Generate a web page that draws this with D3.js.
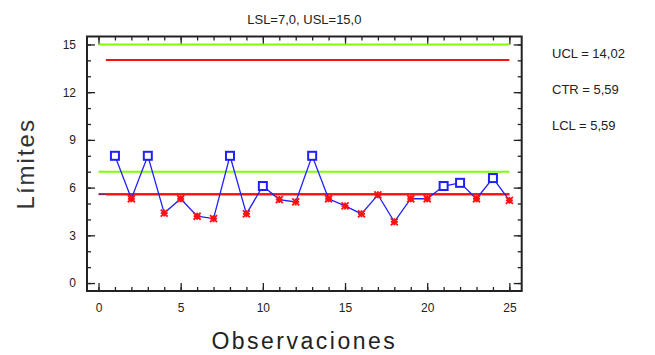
<!DOCTYPE html>
<html>
<head>
<meta charset="utf-8">
<script src="https://cdn.jsdelivr.net/npm/d3@7"></script>
<style>
  body { margin: 0; background: #fff; }
  text { font-family: "Liberation Sans", Arial, sans-serif; fill: #222; }
</style>
</head>
<body>
<div id="chart"></div>
<script>
// observations and measured values
var observations = [1, 2, 3, 4, 5, 6, 7, 8, 9, 10, 11, 12, 13, 14, 15, 16, 17, 18, 19, 20, 21, 22, 23, 24, 25];
var values = [8.0, 5.3, 8.0, 4.4, 5.3, 4.2, 4.05, 8.0, 4.35, 6.1, 5.25, 5.1, 8.0, 5.3, 4.85, 4.35, 5.55, 3.85, 5.3, 5.3, 6.1, 6.3, 5.3, 6.6, 5.2];

// spec and control limits
var specNames = ["LSL", "USL"];
var specValues = [7.0, 15.0];
var controlNames = ["UCL", "CTR", "LCL"];
var controlValues = [14.02, 5.59, 5.59];

var xTicks = [0, 5, 10, 15, 20, 25];
var yTicks = [0, 3, 6, 9, 12, 15];
var xMinor = [0, 1, 2, 3, 4, 5, 6, 7, 8, 9, 10, 11, 12, 13, 14, 15, 16, 17, 18, 19, 20, 21, 22, 23, 24, 25];
var yMinor = [0, 1, 2, 3, 4, 5, 6, 7, 8, 9, 10, 11, 12, 13, 14, 15];

var W = 655, H = 355;
var pL = 87, pR = 521.7, pT = 36.5, pB = 291;

var fmt = function(v, d) { return v.toFixed(d).replace(".", ","); };

var svg = d3.select("#chart").append("svg")
    .attr("width", W)
    .attr("height", H);

var x = d3.scaleLinear().domain([-0.7, 25.75]).range([pL, pR]);
var y = d3.scaleLinear().domain([-0.5, 15.5]).range([pB, pT]);

// ticks pointing inward on all four sides
function drawAxis(axisFn, scale, transform, vals, size, labels) {
    var a = axisFn(scale).tickValues(vals).tickSizeInner(-size).tickSizeOuter(0);
    if (!labels) a.tickFormat("");
    var g = svg.append("g").attr("transform", transform).call(a);
    g.select(".domain").remove();
    g.selectAll(".tick line").attr("stroke", "#222").attr("stroke-width", 1.3);
    return g;
}

drawAxis(d3.axisBottom, x, "translate(0," + pB + ")", xMinor, 4, false);
drawAxis(d3.axisTop, x, "translate(0," + pT + ")", xMinor, 4, false);
drawAxis(d3.axisLeft, y, "translate(" + pL + ",0)", yMinor, 4, false);
drawAxis(d3.axisRight, y, "translate(" + pR + ",0)", yMinor, 4, false);

var gx = drawAxis(d3.axisBottom, x, "translate(0," + pB + ")", xTicks, 8, true);
gx.selectAll(".tick text").attr("y", 12).attr("dy", "0.71em")
    .style("font-size", "12px").style("font-family", "Liberation Sans, Arial, sans-serif").attr("fill", "#222");
drawAxis(d3.axisTop, x, "translate(0," + pT + ")", xTicks, 8, false);
var gy = drawAxis(d3.axisLeft, y, "translate(" + pL + ",0)", yTicks, 8, true);
gy.selectAll(".tick text").attr("x", -11)
    .style("font-size", "12px").style("font-family", "Liberation Sans, Arial, sans-serif").attr("fill", "#222");
drawAxis(d3.axisRight, y, "translate(" + pR + ",0)", yTicks, 8, false);

// frame
svg.append("rect")
    .attr("x", pL).attr("y", pT)
    .attr("width", pR - pL).attr("height", pB - pT)
    .attr("fill", "none").attr("stroke", "#222").attr("stroke-width", 2);

// spec limits (green)
specValues.forEach(function(v) {
    svg.append("line")
        .attr("x1", x(0)).attr("x2", x(25))
        .attr("y1", y(v)).attr("y2", y(v))
        .attr("stroke", "#80ff00").attr("stroke-width", 2);
});

// control limits (red)
controlValues.forEach(function(v, i) {
    svg.append("line")
        .attr("x1", x(0.45)).attr("x2", x(25))
        .attr("y1", y(v)).attr("y2", y(v))
        .attr("stroke", "#ff1010").attr("stroke-width", 2);
});
svg.append("line")
    .attr("x1", x(0)).attr("x2", x(0.45))
    .attr("y1", y(controlValues[1])).attr("y2", y(controlValues[1]))
    .attr("stroke", "#802060").attr("stroke-width", 2);

// data line
var line = d3.line()
    .x(function(d, i) { return x(observations[i]); })
    .y(function(d) { return y(d); });

svg.append("path")
    .datum(values)
    .attr("d", line)
    .attr("fill", "none")
    .attr("stroke", "#2020ff")
    .attr("stroke-width", 1.3);

// markers: squares above center line, red stars below
values.forEach(function(v, i) {
    var cx = x(observations[i]), cy = y(v);
    if (v > controlValues[1]) {
        svg.append("rect")
            .attr("x", cx - 4).attr("y", cy - 4)
            .attr("width", 8).attr("height", 8)
            .attr("fill", "#fff").attr("stroke", "#2020ff").attr("stroke-width", 2);
    } else {
        var r = 3.5;
        var p = "M" + (cx - r) + "," + cy + "L" + (cx + r) + "," + cy +
            "M" + cx + "," + (cy - r) + "L" + cx + "," + (cy + r) +
            "M" + (cx - r) + "," + (cy - r) + "L" + (cx + r) + "," + (cy + r) +
            "M" + (cx - r) + "," + (cy + r) + "L" + (cx + r) + "," + (cy - r);
        svg.append("path").attr("d", p)
            .attr("stroke", "#ff1010").attr("stroke-width", 1.8).attr("fill", "none");
    }
});

// title
svg.append("text")
    .attr("x", (pL + pR) / 2).attr("y", 24)
    .attr("text-anchor", "middle")
    .style("font-size", "13px")
    .text(specNames[0] + "=" + fmt(specValues[0], 1) + ", " + specNames[1] + "=" + fmt(specValues[1], 1));

// control limit legend on the right
controlNames.forEach(function(n, i) {
    svg.append("text")
        .attr("x", 552).attr("y", 58 + i * 36)
        .style("font-size", "13px")
        .text(n + " = " + fmt(controlValues[i], 2));
});

// axis titles
svg.append("text")
    .attr("x", (pL + pR) / 2).attr("y", 349)
    .attr("text-anchor", "middle")
    .style("font-size", "23px")
    .style("letter-spacing", "2.5px")
    .attr("fill", "#333")
    .text("Observaciones");

svg.append("text")
    .attr("transform", "translate(34," + ((pT + pB) / 2) + ") rotate(-90)")
    .attr("text-anchor", "middle")
    .style("font-size", "24px")
    .style("letter-spacing", "2px")
    .style("fill", "#333")
    .text("Límites");
</script>
</body>
</html>
